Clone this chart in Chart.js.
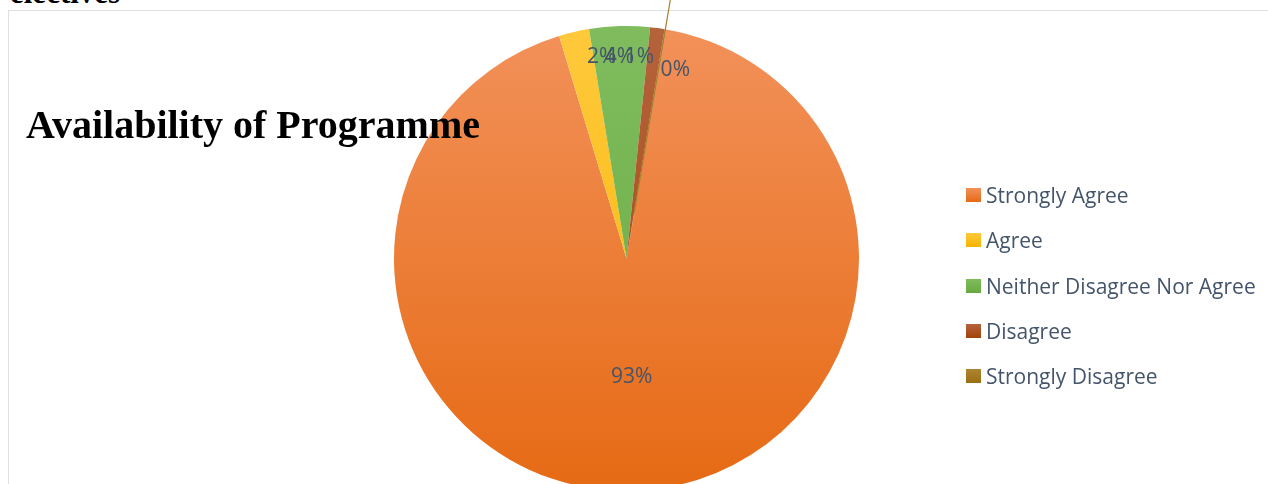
<!DOCTYPE html>
<html>
<head>
<meta charset="utf-8">
<script src="https://cdn.jsdelivr.net/npm/chart.js@4.4.1/dist/chart.umd.min.js"></script>
<style>
  html, body { margin:0; padding:0; background:#fff; width:1268px; height:484px; overflow:hidden; }
  #wrap { position:relative; width:1268px; height:484px; overflow:hidden; }
  #frame { position:absolute; left:8px; top:10px; width:1300px; height:520px; border-left:1.5px solid #DCDFE6; border-top:1.5px solid #DCDFE6; }
  #above { position:absolute; left:10px; top:-25px; font:bold 31px "Liberation Serif", "Times New Roman", serif; color:#000; white-space:nowrap; }
  #title { position:absolute; left:26px; top:101px; font:bold 40px "Liberation Serif", "Times New Roman", serif; color:#000; white-space:nowrap; z-index:3; }
  #c { position:absolute; left:0; top:0; z-index:2; }
  #legend { position:absolute; left:966px; top:180px; z-index:3; font:21px "Open Sans", sans-serif; color:#44546A; }
  .row { position:relative; height:45.3px; white-space:nowrap; }
  .sw { position:absolute; left:0; top:8px; width:15px; height:14px; }
  .lt { position:absolute; left:20px; top:0; line-height:30px; }
</style>
</head>
<body>
<div id="wrap">
  <div id="frame"></div>
  <div id="above">electives</div>
  <canvas id="c" width="1268" height="500"></canvas>
  <div id="title">Availability of Programme</div>
  <div id="legend"></div>
</div>
<script>
const categories = ["Strongly Agree", "Agree", "Neither Disagree Nor Agree", "Disagree", "Strongly Disagree"];
const values = [92.6, 2.1, 4.2, 1.0, 0.1];
const colorsTop = ["#F2915A", "#FFC93C", "#80BC5E", "#B5633C", "#AE8535"];
const colorsBottom = ["#E66A14", "#F5B400", "#67AA40", "#A2420A", "#9A6E10"];

const total = values.reduce((a, b) => a + b, 0);

function sliceGradient(ctx, i, top, bottom) {
  const g = ctx.createLinearGradient(0, top, 0, bottom);
  g.addColorStop(0, colorsTop[i]);
  g.addColorStop(1, colorsBottom[i]);
  return g;
}

const labelPlugin = {
  id: 'pieLabels',
  afterDatasetsDraw(chart, args, opts) {
    const ctx = chart.ctx;
    const meta = chart.getDatasetMeta(0);
    ctx.save();
    // leader line for the thin last slice
    const last = meta.data[meta.data.length - 1];
    if (last) {
      const p = last.getProps(['x', 'y', 'startAngle', 'endAngle', 'outerRadius'], true);
      const a = (p.startAngle + p.endAngle) / 2;
      ctx.strokeStyle = opts.leaderColor;
      ctx.lineWidth = 1.2;
      ctx.beginPath();
      ctx.moveTo(p.x + Math.cos(a) * p.outerRadius * 0.2, p.y + Math.sin(a) * p.outerRadius * 0.2);
      ctx.lineTo(p.x + Math.cos(a) * (p.outerRadius + 40), p.y + Math.sin(a) * (p.outerRadius + 40));
      ctx.stroke();
    }
    ctx.font = opts.font;
    ctx.fillStyle = opts.color;
    ctx.textAlign = 'center';
    ctx.textBaseline = 'middle';
    meta.data.forEach((arc, i) => {
      const p = arc.getProps(['x', 'y', 'startAngle', 'endAngle', 'outerRadius'], true);
      const a = (p.startAngle + p.endAngle) / 2;
      const r = p.outerRadius * opts.radiusFrac[i];
      const nx = opts.nudge[i][0], ny = opts.nudge[i][1];
      const pct = Math.round(values[i] / total * 100) + '%';
      ctx.fillText(pct, p.x + Math.cos(a) * r + nx, p.y + Math.sin(a) * r + ny);
    });
    ctx.restore();
  }
};

const chart = new Chart(document.getElementById('c'), {
  type: 'pie',
  data: {
    labels: categories,
    datasets: [{
      data: values,
      backgroundColor: (c) => {
        const area = c.chart.chartArea;
        if (!area) return colorsTop[c.dataIndex];
        return sliceGradient(c.chart.ctx, c.dataIndex, area.top, area.bottom);
      },
      borderWidth: 0
    }]
  },
  options: {
    responsive: false,
    animation: false,
    rotation: 9.8,
    layout: { padding: { left: 394, right: 409, top: 26, bottom: 9 } },
    plugins: {
      legend: { display: false },
      tooltip: { enabled: false },
      pieLabels: {
        font: '21px "Open Sans", sans-serif',
        color: '#44546A',
        leaderColor: '#A8802E',
        radiusFrac: [0.51, 0.87, 0.87, 0.87, 0.87],
        nudge: [[-2, 0], [21, -4], [-1, 1], [-14, -1], [15, 11]]
      }
    }
  },
  plugins: [labelPlugin]
});

// legend built from the same arrays
const leg = document.getElementById('legend');
categories.forEach((name, i) => {
  const row = document.createElement('div');
  row.className = 'row';
  const sw = document.createElement('span');
  sw.className = 'sw';
  sw.style.background = 'linear-gradient(' + colorsTop[i] + ',' + colorsBottom[i] + ')';
  const t = document.createElement('span');
  t.className = 'lt';
  t.textContent = name;
  row.appendChild(sw);
  row.appendChild(t);
  leg.appendChild(row);
});
</script>
</body>
</html>
